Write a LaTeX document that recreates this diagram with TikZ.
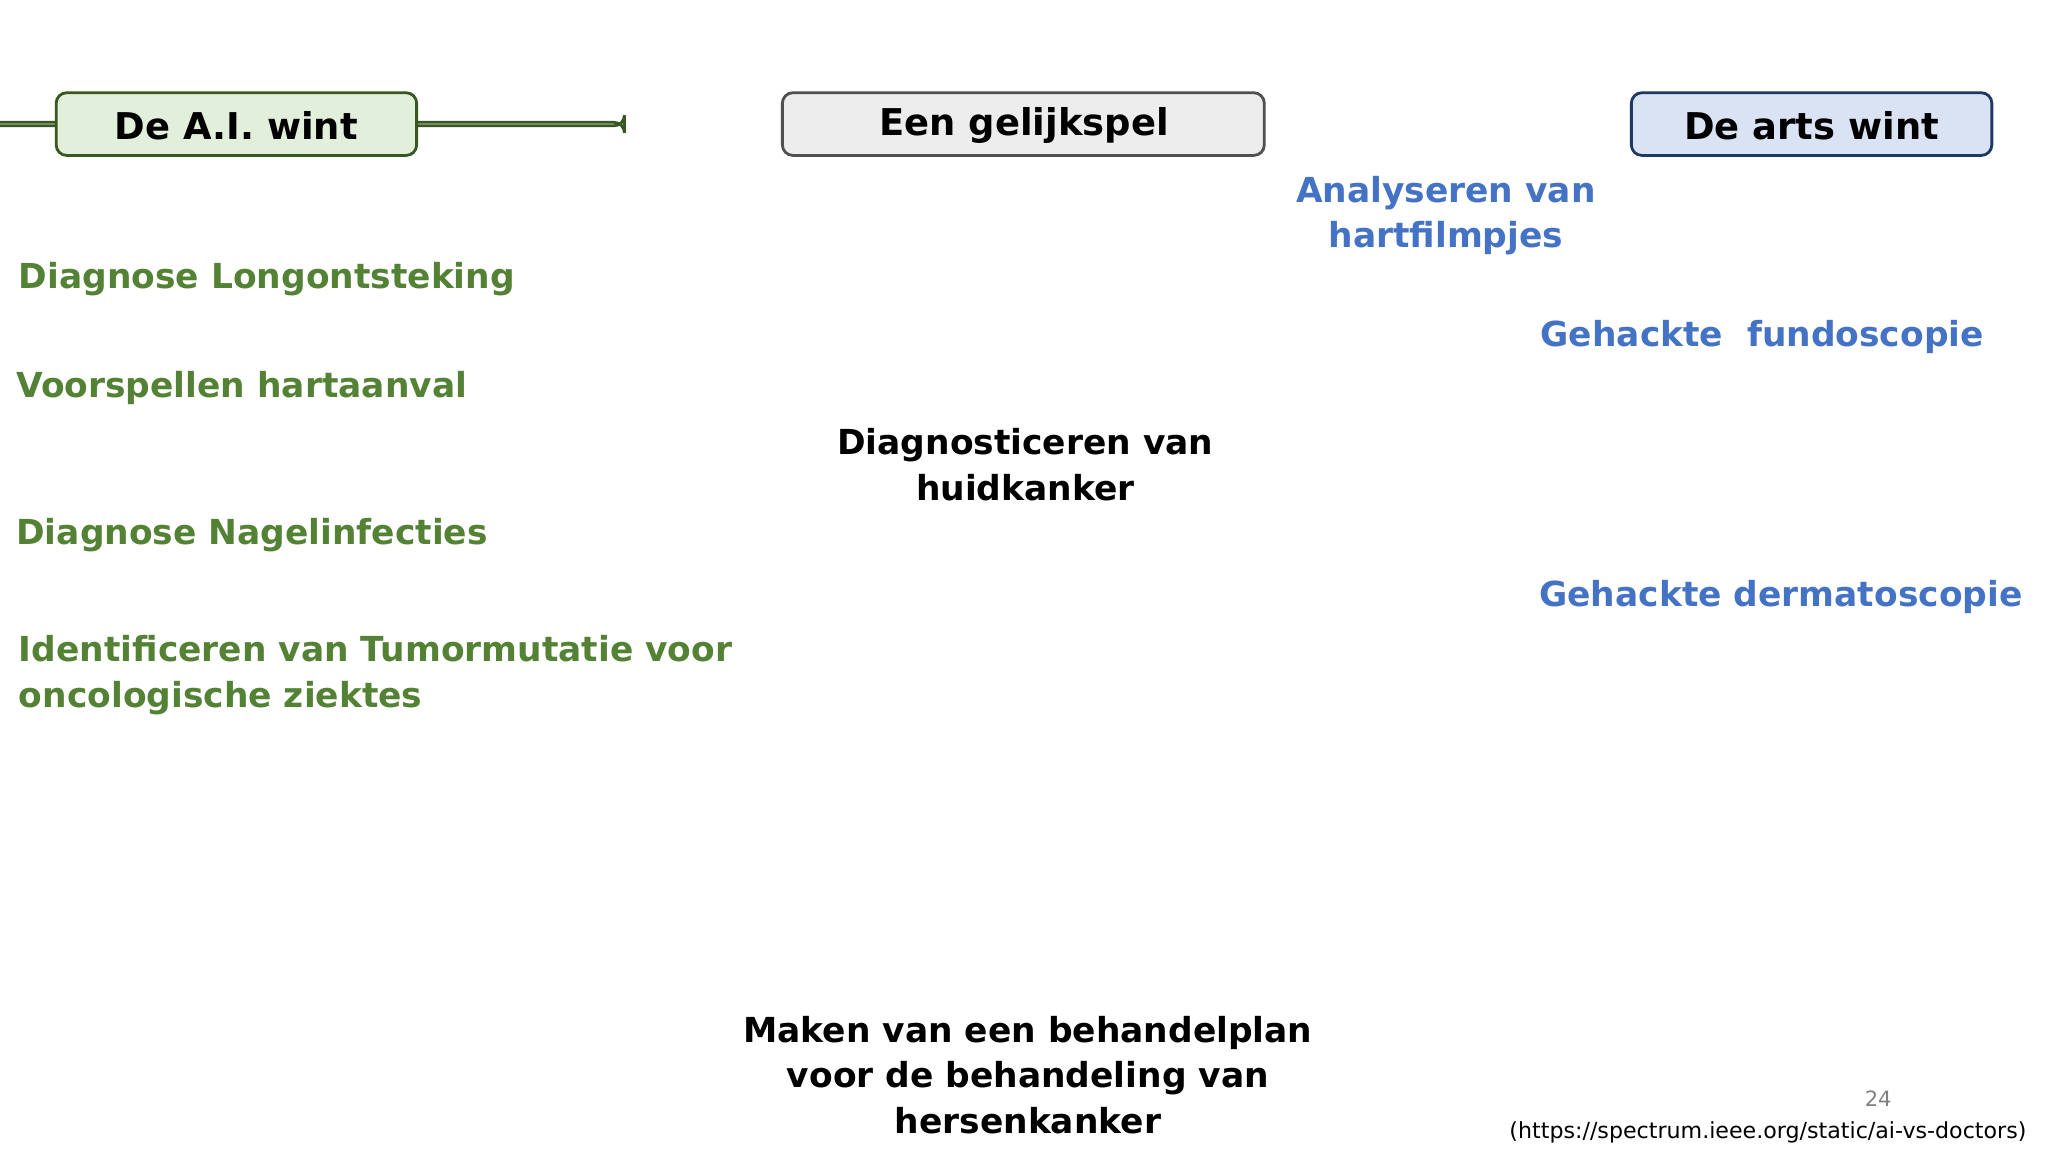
\documentclass[tikz,border=0pt]{standalone}
\usepackage{fontspec}
\setmainfont{DejaVu Sans}
\definecolor{aigreen}{HTML}{548235}
\definecolor{drblue}{HTML}{4472C4}
\begin{document}
\begin{tikzpicture}[x=0.01306cm,y=-0.01306cm,
  hdr/.style={draw,line width=0.8pt,rounded corners=3pt,font=\bfseries\fontsize{10.5}{12}\selectfont,inner sep=0pt},
  gtxt/.style={anchor=west,text=aigreen,font=\bfseries\fontsize{9.8}{13}\selectfont,align=left,inner sep=0pt},
  btxt/.style={text=drblue,font=\bfseries\fontsize{9.8}{13}\selectfont,align=center,inner sep=0pt},
  ktxt/.style={text=black,font=\bfseries\fontsize{9.8}{13}\selectfont,align=center,inner sep=0pt}]
\useasboundingbox (0,0) rectangle (1568,882);
\node[hdr,fill={rgb,255:red,226;green,239;blue,218},draw={rgb,255:red,56;green,87;blue,35},minimum width=276\pgflinewidth,text width=,] (ai) at (181,95) {};
\draw[hdr,fill={rgb,255:red,226;green,239;blue,218},draw={rgb,255:red,56;green,87;blue,35}] (43,71) rectangle (319,119);
\node[font=\bfseries\fontsize{10.5}{12}\selectfont] (ait) at (181,96) {De A.I. wint};
\draw[hdr,fill={rgb,255:red,237;green,237;blue,237},draw={rgb,255:red,80;green,80;blue,80}] (599,71) rectangle (968,119);
\node[font=\bfseries\fontsize{10.5}{12}\selectfont] (gl) at (784,96) {Een gelijkspel};
\draw[hdr,fill={rgb,255:red,218;green,227;blue,243},draw={rgb,255:red,31;green,56;blue,100}] (1249,71) rectangle (1525,119);
\node[font=\bfseries\fontsize{10.5}{12}\selectfont] (ar) at (1387,96) {De arts wint};
\node[gtxt] (g1) at (14,214) {Diagnose Longontsteking};
\node[gtxt] (g2) at (12,297) {Voorspellen hartaanval};
\node[gtxt] (g3) at (12,410) {Diagnose Nagelinfecties};
\node[gtxt] (g4) at (14,517) {Identificeren van Tumormutatie voor\\oncologische ziektes};
\node[ktxt] (k1) at (785,356) {Diagnosticeren van\\huidkanker};
\node[ktxt] (k2) at (787,823) {Maken van een behandelplan\\voor de behandeling van\\hersenkanker};
\node[btxt] (b1) at (1107,165) {Analyseren van\\hartfilmpjes};
\node[btxt,anchor=west] (b2) at (1179,258) {Gehackte\ \ fundoscopie};
\node[btxt,anchor=west] (b3) at (1178,457) {Gehackte dermatoscopie};
\node[text=gray,font=\fontsize{6}{7}\selectfont] (pg) at (1438,841) {24};
\node[anchor=east,font=\fontsize{6.3}{7}\selectfont,inner sep=0pt] (src) at (1552,867) {(https://spectrum.ieee.org/static/ai-vs-doctors)};
\end{tikzpicture}
\end{document}
